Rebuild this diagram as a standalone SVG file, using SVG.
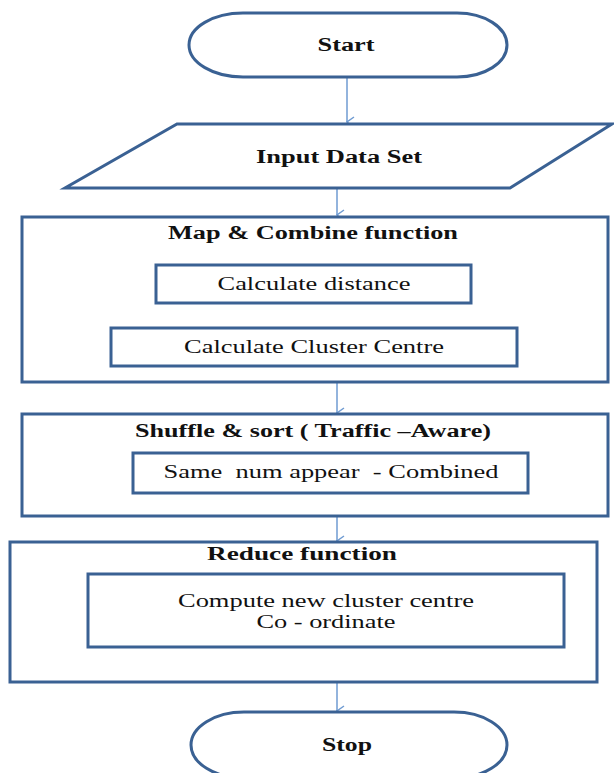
<svg xmlns="http://www.w3.org/2000/svg" width="614" height="773" viewBox="0 0 614 773">
<style>
.shape{fill:#fff;stroke:#3a6193;stroke-width:3}
.inner{fill:#fff;stroke:#3a6193;stroke-width:3}
.conn{stroke:#6f9bd2;stroke-width:1.5;fill:none}
.t{font-family:"Liberation Serif","Times New Roman",serif;fill:#111;text-anchor:middle}
.b{font-weight:bold;font-size:18px}
.r{font-size:18px}
</style>
<defs>
<marker id="ah" viewBox="0 0 12 12" refX="6" refY="11" markerWidth="12" markerHeight="12" markerUnits="userSpaceOnUse" orient="auto-start-reverse">
<path d="M1,4 L6,11 L11,4" fill="none" stroke="#6f9bd2" stroke-width="1.5"/>
</marker>
</defs>
<rect width="614" height="773" fill="#fff"/>
<g id="connectors">
<line class="conn" x1="347" y1="77" x2="347" y2="122" marker-end="url(#ah)"/>
<line class="conn" x1="337" y1="188" x2="337" y2="215" marker-end="url(#ah)"/>
<line class="conn" x1="337" y1="383" x2="337" y2="413" marker-end="url(#ah)"/>
<line class="conn" x1="337" y1="516" x2="337" y2="541" marker-end="url(#ah)"/>
<line class="conn" x1="337" y1="682" x2="337" y2="711" marker-end="url(#ah)"/>
</g>
<g id="start">
<path class="shape" d="M243,13 H457 A50,32 0 0 1 457,77 H243 A54,32 0 0 1 243,13 Z"/>
<text class="t b" x="346" y="51" textLength="57" lengthAdjust="spacingAndGlyphs">Start</text>
</g>
<g id="input">
<polygon class="shape" points="177,124 612,124 510,188 65,188"/>
<text class="t b" x="339" y="163" textLength="166" lengthAdjust="spacingAndGlyphs">Input Data Set</text>
</g>
<g id="map">
<rect class="shape" x="22" y="217" width="586" height="165"/>
<text class="t b" x="313" y="239" textLength="290" lengthAdjust="spacingAndGlyphs">Map &amp; Combine function</text>
</g>
<g id="calc-distance">
<rect class="inner" x="156" y="265" width="315" height="38"/>
<text class="t r" x="314" y="290" textLength="193" lengthAdjust="spacingAndGlyphs">Calculate distance</text>
</g>
<g id="calc-centre">
<rect class="inner" x="111" y="328" width="406" height="38"/>
<text class="t r" x="314" y="353" textLength="260" lengthAdjust="spacingAndGlyphs">Calculate Cluster Centre</text>
</g>
<g id="shuffle">
<rect class="shape" x="22" y="414" width="586" height="102"/>
<text class="t b" x="313" y="437" textLength="356" lengthAdjust="spacingAndGlyphs">Shuffle &amp; sort ( Traffic –Aware)</text>
</g>
<g id="same-num">
<rect class="inner" x="133" y="453" width="395" height="40"/>
<text class="t r" x="331" y="478" textLength="335" lengthAdjust="spacingAndGlyphs" xml:space="preserve">Same  num appear  - Combined</text>
</g>
<g id="reduce">
<rect class="shape" x="10" y="542" width="587" height="140"/>
<text class="t b" x="302" y="560" textLength="190" lengthAdjust="spacingAndGlyphs">Reduce  function</text>
</g>
<g id="compute">
<rect class="inner" x="88" y="574" width="476" height="73"/>
<text class="t r" x="326" y="607" textLength="296" lengthAdjust="spacingAndGlyphs">Compute new cluster centre</text>
<text class="t r" x="326" y="628" textLength="139" lengthAdjust="spacingAndGlyphs">Co - ordinate</text>
</g>
<g id="stop">
<path class="shape" d="M244,712 H454 A53,33 0 0 1 454,778 H244 A53,33 0 0 1 244,712 Z"/>
<text class="t b" x="347" y="751" textLength="50" lengthAdjust="spacingAndGlyphs">Stop</text>
</g>
</svg>
